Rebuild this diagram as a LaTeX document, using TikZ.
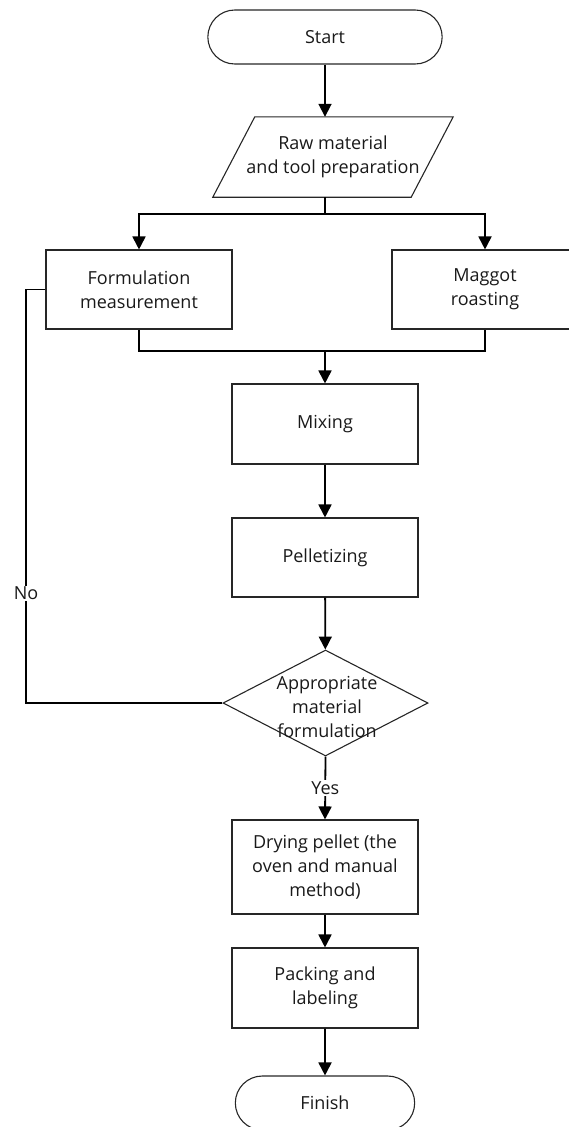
\documentclass[tikz,border=0pt]{standalone}
\usepackage{fontspec}
\setmainfont{Open Sans}
\usetikzlibrary{arrows.meta,shapes.geometric,shapes.misc}
\begin{document}
\begin{tikzpicture}[x=1pt,y=-1pt,
  font=\fontsize{18}{24}\selectfont,
  every node/.style={text=black!90},
  box/.style={draw=black!85, line width=1.1pt, rectangle, minimum width=186pt, minimum height=80pt, align=center, inner sep=2pt},
  term/.style={draw=black!85, line width=1.1pt, rounded rectangle, minimum height=54pt, align=center},
  io/.style={rectangle, minimum width=198pt, minimum height=80pt, align=center, inner sep=0pt},
  decision/.style={draw=black!85, line width=1.1pt, diamond, minimum width=205pt, minimum height=106pt, inner sep=0pt},
  link/.style={line width=1.8pt, draw=black},
  conn/.style={link, -{Triangle[length=13pt,width=13pt]}},
  lab/.style={fill=white, inner sep=1pt}]
\useasboundingbox (0,0) rectangle (569,1127);

\node[term, minimum width=241pt] (start) at (325,37) {Start};
\node[io] (raw) at (333,157) {Raw material\\and tool preparation};
\draw[draw=black!85, line width=1.1pt] ([xshift=21pt]raw.north west) -- ([xshift=21pt]raw.north east) -- ([xshift=-21pt]raw.south east) -- ([xshift=-21pt]raw.south west) -- cycle;
\node[box, minimum height=79pt] (form) at (139,289.5) {Formulation\\measurement};
\node[box, minimum height=79pt] (mag) at (485,289.5) {Maggot\\roasting};
\node[box] (mix) at (325,424) {Mixing};
\node[box, minimum height=79pt] (pel) at (325,557.5) {Pelletizing};
\node[decision] (dec) at (325.5,703) {};
\node[align=center] (dect) at (327,707) {Appropriate\\material\\formulation};
\node[box, minimum height=94pt] (dry) at (325,867) {Drying pellet (the\\oven and manual\\method)};
\node[box] (pack) at (325,988) {Packing and\\labeling};
\node[term, minimum width=186pt] (fin) at (325,1103) {Finish};

\coordinate (br) at (325,214);
\coordinate (mg) at (325,351);
\coordinate (lx) at (26,0);

\draw[conn] (start.south) -- (start.south |- raw.north);
\draw[link] (start.south |- raw.south) -- (br);
\draw[conn] (br) -| (form.north);
\draw[conn] (br) -| (mag.north);
\draw[link] (form.south) |- (mg) -| (mag.south);
\draw[conn] (mg) -- (mix.north);
\draw[conn] (mix) -- (pel);
\draw[conn] (pel) -- (dec);
\draw[conn] (dec.south) -- node[lab, name=yes] {Yes} (dry.north);
\draw[conn] (dry) -- (pack);
\draw[conn] (pack) -- (fin);
\draw[link] (dec.west) -- (dec.west -| lx) -- node[lab, pos=0.266, name=no] {No} (form.west -| lx) -- (form.west);
\end{tikzpicture}
\end{document}
